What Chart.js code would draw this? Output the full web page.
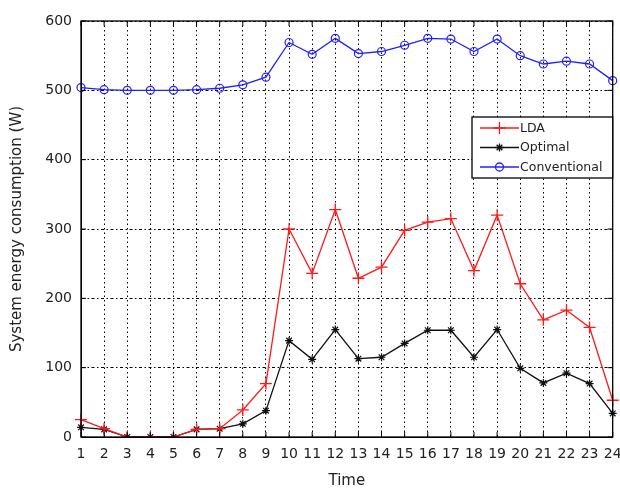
<!DOCTYPE html>
<html>
<head>
<meta charset="utf-8">
<script src="https://cdn.jsdelivr.net/npm/chart.js@4/dist/chart.umd.min.js"></script>
<style>
html,body{margin:0;padding:0;background:#fff;}
#wrap{width:620px;height:489px;}
</style>
</head>
<body>
<div id="wrap"><canvas id="c" width="620" height="489"></canvas></div>
<script>
// hours of the day
const hours=[1,2,3,4,5,6,7,8,9,10,11,12,13,14,15,16,17,18,19,20,21,22,23,24];
// values (W)
const lda=[25,12,0,0,0,11,12,39,77,300,236,328,229,245,298,310,315,240,320,221,169,183,158,53];
const optimal=[14,11,0,0,0,11,12,19,38,139,112,155,113,115,135,154,154,115,155,99,78,92,77,34];
const conventional=[504,501,500,500,500,501,503,508,519,569,552,575,553,556,565,575,574,556,574,550,538,542,538,514];
const yTicks=[0,100,200,300,400,500,600];

const FONT='"DejaVu Sans", Arial, sans-serif';

// box, inward ticks and legend, the way matlab draws them
const frame={
	id:'frame',
	afterDraw(chart){
		let ctx=chart.ctx, a=chart.chartArea;
		let xs=chart.scales.x, ys=chart.scales.y;
		ctx.save();
		ctx.strokeStyle='#000';
		ctx.lineWidth=1.3;
		ctx.setLineDash([]);
		ctx.strokeRect(a.left,a.top,a.right-a.left,a.bottom-a.top);
		ctx.lineWidth=1;
		ctx.beginPath();
		hours.forEach((h,i)=>{
			let x=xs.getPixelForValue(i);
			ctx.moveTo(x,a.bottom);ctx.lineTo(x,a.bottom-5);
			ctx.moveTo(x,a.top);ctx.lineTo(x,a.top+5);
		});
		yTicks.forEach((v)=>{
			let y=ys.getPixelForValue(v);
			ctx.moveTo(a.left,y);ctx.lineTo(a.left+5,y);
			ctx.moveTo(a.right,y);ctx.lineTo(a.right-5,y);
		});
		ctx.stroke();

		// legend
		let lx=472, ly=117, lw=a.right-lx, lh=61;
		ctx.fillStyle='#fff';
		ctx.fillRect(lx,ly,lw,lh);
		ctx.lineWidth=1.3;
		ctx.strokeRect(lx,ly,lw,lh);
		ctx.font='12.5px '+FONT;
		ctx.textBaseline='middle';
		chart.data.datasets.forEach((ds,i)=>{
			let y=ly+11+i*19.5;
			ctx.strokeStyle=ds.borderColor;
			ctx.lineWidth=1.3;
			ctx.beginPath();ctx.moveTo(480,y);ctx.lineTo(519,y);ctx.stroke();
			ctx.fillStyle='rgba(0,0,0,0)';
			Chart.helpers.drawPoint(ctx,{pointStyle:ds.pointStyle,radius:ds.pointRadius,borderWidth:1.2},499.5,y);
			ctx.fillStyle='#222';
			ctx.fillText(ds.label,520,y+0.5);
		});
		ctx.restore();
	}
};

new Chart(document.getElementById('c'),{
	type:'line',
	data:{
		labels:hours,
		datasets:[
			{label:'LDA',data:lda,borderColor:'#ff1a1a',backgroundColor:'rgba(0,0,0,0)',pointStyle:'cross',pointRadius:6,pointBorderWidth:1.3,borderWidth:1.3,tension:0},
			{label:'Optimal',data:optimal,borderColor:'#111',backgroundColor:'rgba(0,0,0,0)',pointStyle:'star',pointRadius:4,pointBorderWidth:1.2,borderWidth:1.3,tension:0},
			{label:'Conventional',data:conventional,borderColor:'#2020ff',backgroundColor:'rgba(0,0,0,0)',pointStyle:'circle',pointRadius:4,pointBorderWidth:1.2,borderWidth:1.3,tension:0}
		]
	},
	options:{
		responsive:false,
		animation:false,
		layout:{padding:{top:21,right:7,left:0,bottom:0}},
		plugins:{legend:{display:false},tooltip:{enabled:false}},
		scales:{
			x:{
				type:'category',
				offset:false,
				afterFit(s){s.height=52;s.paddingLeft=0;s.paddingRight=0;},
				grid:{color:'#000',lineWidth:1,drawTicks:false},
				border:{display:true,color:'#000',dash:[1.5,3]},
				ticks:{color:'#222',font:{family:FONT,size:14},padding:9,maxRotation:0,autoSkip:false},
				title:{display:true,text:'Time',color:'#222',font:{family:FONT,size:15},padding:{top:6,bottom:-1}}
			},
			y:{
				min:0,max:600,
				afterFit(s){s.width=81;},
				afterBuildTicks(s){s.ticks=yTicks.map((v)=>({value:v}));},
				grid:{color:'#000',lineWidth:1,drawTicks:false},
				border:{display:true,color:'#000',dash:[3,2.5,1.5,2.5]},
				ticks:{color:'#222',font:{family:FONT,size:14},padding:9},
				title:{display:true,text:'System energy consumption (W)',color:'#222',font:{family:FONT,size:15},padding:{top:8,bottom:4}}
			}
		}
	},
	plugins:[frame]
});
</script>
</body>
</html>
